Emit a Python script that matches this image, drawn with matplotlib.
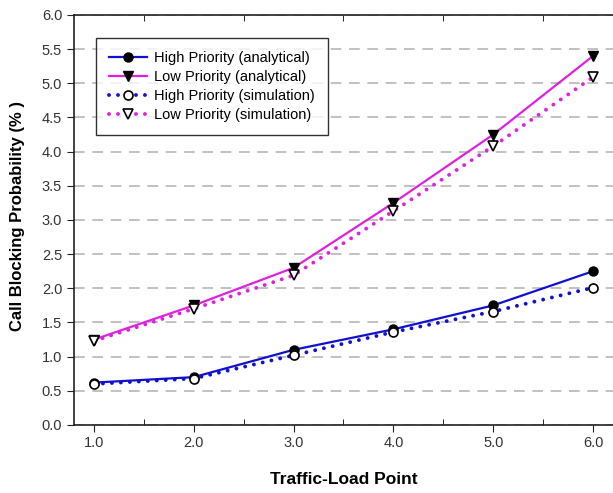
import matplotlib.pyplot as plt
from matplotlib.ticker import MultipleLocator

plt.rcParams['font.family'] = ['Liberation Sans', 'DejaVu Sans']

load = [1.0, 2.0, 3.0, 4.0, 5.0, 6.0]
high_ana = [0.62, 0.70, 1.10, 1.40, 1.75, 2.25]
low_ana = [1.25, 1.75, 2.30, 3.25, 4.25, 5.40]
high_sim = [0.60, 0.68, 1.02, 1.36, 1.66, 2.01]
low_sim = [1.23, 1.70, 2.19, 3.13, 4.08, 5.09]

blue = "#1010d0"
pink = "#e020e0"
dots = (0, (0.01, 2.3))

fig = plt.figure(figsize=(6.13, 4.93), dpi=100)
ax = fig.add_axes([0.1207, 0.138, 0.8793, 0.8316])

ax.plot(load, high_ana, color=blue, lw=1.6, marker="o", ms=6.5,
        mfc="black", mec="black", label="High Priority (analytical)", zorder=3)
ax.plot(load, low_ana, color=pink, lw=1.6, marker="v", ms=7.5,
        mfc="black", mec="black", label="Low Priority (analytical)", zorder=3)
ax.plot(load, high_sim, color=blue, lw=2.8, ls=dots, dash_capstyle="round",
        marker="o", ms=6.5, mfc="white", mec="black", mew=1.2,
        label="High Priority (simulation)", zorder=4)
ax.plot(load, low_sim, color=pink, lw=2.8, ls=dots, dash_capstyle="round",
        marker="v", ms=7.5, mfc="white", mec="black", mew=1.2,
        label="Low Priority (simulation)", zorder=4)

ax.set_xlim(0.8, 6.2)
ax.set_ylim(0, 6)
ax.xaxis.set_major_locator(MultipleLocator(1))
ax.xaxis.set_minor_locator(MultipleLocator(0.5))
ax.yaxis.set_major_locator(MultipleLocator(0.5))
ax.xaxis.set_major_formatter(plt.FormatStrFormatter("%.1f"))
ax.yaxis.set_major_formatter(plt.FormatStrFormatter("%.1f"))
ax.tick_params(axis="both", which="major", direction="out", length=5,
               labelsize=10.5, colors="#222222", labelcolor="#333333")
ax.tick_params(axis="x", which="minor", direction="in", length=4, top=True)
ax.tick_params(axis="x", which="major", pad=3)
ax.spines["right"].set_visible(False)
for s in ["left", "bottom", "top"]:
    ax.spines[s].set_linewidth(1.2)
    ax.spines[s].set_color("#222222")

ax.yaxis.grid(True, ls=(0, (7, 5)), color="#b0b0b0", lw=1.1)
ax.set_axisbelow(True)

ax.set_xlabel("Traffic-Load Point", fontsize=12.5, fontweight="bold", labelpad=16)
ax.set_ylabel("Call Blocking Probability (% )", fontsize=12, fontweight="bold")
ax.yaxis.set_label_coords(-0.09, 0.51)

leg = ax.legend(loc="upper left", bbox_to_anchor=(0.04, 0.945), fontsize=10.5,
                frameon=True, fancybox=False, edgecolor="black", handlelength=2.6,
                borderpad=0.9, labelspacing=0.35, handletextpad=0.5, borderaxespad=0)
leg.get_frame().set_linewidth(1.0)

fig.savefig("out.png", dpi=100)
